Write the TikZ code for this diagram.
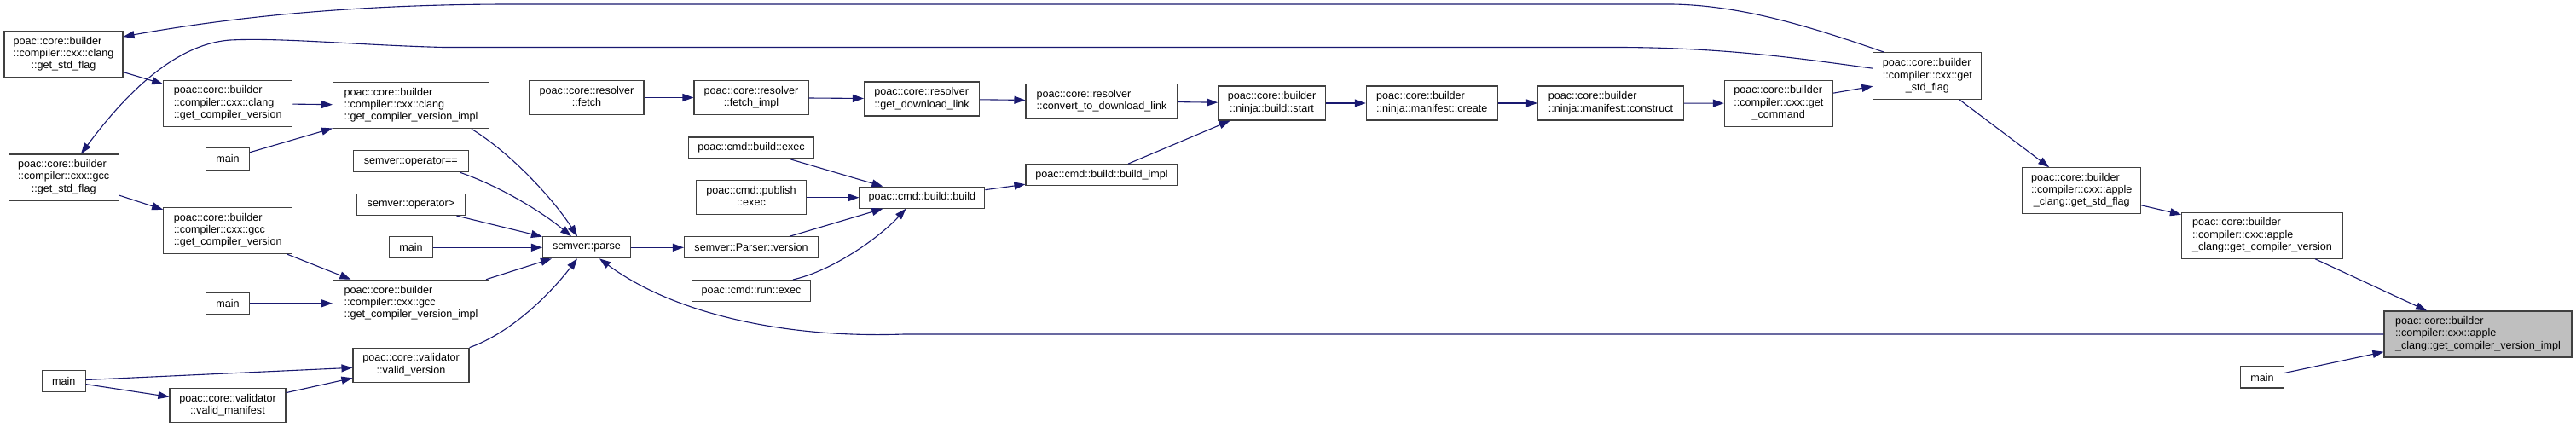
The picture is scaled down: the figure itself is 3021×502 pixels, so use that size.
\documentclass[tikz,border=0pt]{standalone}
\usepackage{fontspec}
\setmainfont{Liberation Sans}
\usetikzlibrary{arrows.meta}
\definecolor{edgeblue}{HTML}{191970}
\definecolor{boxline}{HTML}{404040}
\definecolor{hlfill}{HTML}{BFBFBF}
\newcommand\twoln[2]{\begin{tabular}{@{}l@{}}#1\\\multicolumn{1}{@{}c@{}}{#2}\end{tabular}}
\newcommand\threeln[3]{\begin{tabular}{@{}l@{}}#1\\#2\\\multicolumn{1}{@{}c@{}}{#3}\end{tabular}}
\begin{document}
\begin{tikzpicture}[x=1pt,y=-1pt,
  box/.style={draw=boxline, line width=1.1pt, fill=white, inner sep=0pt, text=black,
    font=\fontsize{12.6}{14.3}\selectfont},
  hl/.style={box, fill=hlfill},
  sz/.style 2 args={minimum width=#1pt, minimum height=#2pt},
  link/.style={draw=edgeblue, line width=1.1pt, -{Triangle[length=13pt,width=9pt]}}]
\fill[white] (0,0) rectangle (3021,502);
\useasboundingbox (0,0) rectangle (3021,502);
% column 1
\node[box, sz={139}{54}] (cstd) at (74.5,63.7) {\threeln{poac::core::builder}{::compiler::cxx::clang}{::get\_std\_flag}};
\node[box, sz={129}{54}] (gstd) at (74.7,208) {\threeln{poac::core::builder}{::compiler::cxx::gcc}{::get\_std\_flag}};
\node[box, sz={51}{25}] (mainL) at (74.7,446.7) {main};
% column 2
\node[box, sz={151}{54}] (cver) at (267.2,121.2) {\threeln{poac::core::builder}{::compiler::cxx::clang}{::get\_compiler\_version}};
\node[box, sz={51}{26}] (main1) at (267,186.3) {main};
\node[box, sz={151}{54}] (gver) at (267.2,270.5) {\threeln{poac::core::builder}{::compiler::cxx::gcc}{::get\_compiler\_version}};
\node[box, sz={51}{25}] (main2) at (267,355.8) {main};
\node[box, sz={136}{40}] (vman) at (267,475.8) {\twoln{poac::core::validator}{::valid\_manifest}};
% column 3
\node[box, sz={183}{54}] (cimpl) at (482,123.8) {\threeln{poac::core::builder}{::compiler::cxx::clang}{::get\_compiler\_version\_impl}};
\node[box, sz={135}{25}] (opeq) at (481.8,189.3) {semver::operator==};
\node[box, sz={127}{25}] (opgt) at (482,240) {semver::operator>};
\node[box, sz={51}{25}] (main3) at (482,290.3) {main};
\node[box, sz={183}{55}] (gimpl) at (482,355.8) {\threeln{poac::core::builder}{::compiler::cxx::gcc}{::get\_compiler\_version\_impl}};
\node[box, sz={136}{40}] (vver) at (482,428.2) {\twoln{poac::core::validator}{::valid\_version}};
% column 4
\node[box, sz={103}{25}] (parse) at (688,290.3) {semver::parse};
\node[box, sz={134}{40}] (fetch) at (688,114.5) {\twoln{poac::core::resolver}{::fetch}};
% column 5
\node[box, sz={134}{40}] (fimpl) at (881,114.5) {\twoln{poac::core::resolver}{::fetch\_impl}};
\node[box, sz={147}{25}] (bexec) at (881,173.5) {poac::cmd::build::exec};
\node[box, sz={129}{40}] (pexec) at (881,231.7) {\twoln{poac::cmd::publish}{::exec}};
\node[box, sz={157}{25}] (pver) at (881,290.3) {semver::Parser::version};
\node[box, sz={139}{25}] (rexec) at (881,341) {poac::cmd::run::exec};
% column 6
\node[box, sz={135}{40}] (gdl) at (1081,116) {\twoln{poac::core::resolver}{::get\_download\_link}};
\node[box, sz={147}{25}] (bbuild) at (1081.4,231.7) {poac::cmd::build::build};
% column 7
\node[box, sz={178}{40}] (convert) at (1292,118.5) {\twoln{poac::core::resolver}{::convert\_to\_download\_link}};
\node[box, sz={178}{25}] (bimpl) at (1292,205.2) {poac::cmd::build::build\_impl};
% further columns
\node[box, sz={126}{40}] (nstart) at (1491.6,121) {\twoln{poac::core::builder}{::ninja::build::start}};
\node[box, sz={154}{40}] (mcreate) at (1679.3,121) {\twoln{poac::core::builder}{::ninja::manifest::create}};
\node[box, sz={171}{40}] (mconstruct) at (1889,121) {\twoln{poac::core::builder}{::ninja::manifest::construct}};
\node[box, sz={127}{54}] (gcmd) at (2085.8,121.2) {\threeln{poac::core::builder}{::compiler::cxx::get}{\_command}};
\node[box, sz={127}{55}] (cxxstd) at (2260.4,89.2) {\threeln{poac::core::builder}{::compiler::cxx::get}{\_std\_flag}};
\node[box, sz={139}{54}] (astd) at (2441.2,223.8) {\threeln{poac::core::builder}{::compiler::cxx::apple}{\_clang::get\_std\_flag}};
\node[box, sz={189}{54}] (agcv) at (2653,276.2) {\threeln{poac::core::builder}{::compiler::cxx::apple}{\_clang::get\_compiler\_version}};
\node[hl, sz={220}{54}] (aimpl) at (2906,392) {\threeln{poac::core::builder}{::compiler::cxx::apple}{\_clang::get\_compiler\_version\_impl}};
\node[box, sz={51}{25}] (mainR) at (2653,442.5) {main};
% connectors
\draw[link] ([xshift=-51pt]cxxstd.north) .. controls (2120,30) and (2040,6) .. (1960,5) -- (600,5) .. controls (450,5) and (300,15) .. ([yshift=20.7pt]cstd.east);
\draw[link] ([yshift=9pt]cxxstd.west) .. controls (2120,70) and (2030,56) .. (1900,55.5) -- (520,55.5) .. controls (420,53) and (330,44) .. (270,47) .. controls (200,52) and (140,120) .. ([xshift=20.3pt]gstd.north);
\draw[link] (cstd) -- (cver);
\draw[link] (cver) -- (cimpl);
\draw[link] (main1) -- (cimpl);
\draw[link] (gstd) -- (gver);
\draw[link] (gver) -- (gimpl);
\draw[link] (main2) -- (gimpl);
\draw[link] (mainL) -- (vver);
\draw[link] (mainL) -- (vman);
\draw[link] (vman) -- (vver);
\draw[link] ([xshift=71pt]cimpl.south) .. controls (600,180) and (650,235) .. ([xshift=-11pt]parse.north);
\draw[link] ([xshift=58pt]opeq.south) .. controls (585,218) and (635,248) .. ([xshift=-18pt]parse.north);
\draw[link] (opgt) -- (parse);
\draw[link] (main3) -- (parse);
\draw[link] ([xshift=88pt]gimpl.north) -- ([xshift=-41pt]parse.south);
\draw[link] (vver.north east) .. controls (600,390) and (645,345) .. ([xshift=-11pt]parse.south);
\draw[link] (aimpl.west) -- (1060,392) .. controls (920,397) and (790,368) .. ([xshift=15pt]parse.south);
\draw[link] (parse) -- (pver);
\draw[link] (fetch) -- (fimpl);
\draw[link] (fimpl) -- (gdl);
\draw[link] (gdl) -- (convert);
\draw[link] (convert) -- (nstart);
\draw[link] ([xshift=45pt]bexec.south) -- ([xshift=-46pt]bbuild.north);
\draw[link] (pexec) -- (bbuild);
\draw[link] ([xshift=45pt]pver.north) -- ([xshift=-46pt]bbuild.south);
\draw[link] ([xshift=49pt]rexec.north) .. controls (975,318) and (1030,280) .. ([xshift=-19pt]bbuild.south);
\draw[link] ([yshift=9pt]bbuild.east) -- ([yshift=-11pt]bimpl.west);
\draw[link] ([xshift=31pt]bimpl.north) -- ([xshift=-49pt]nstart.south);
\draw[link] (nstart) -- (mcreate);
\draw[link] (mcreate) -- (mconstruct);
\draw[link] (mconstruct) -- (gcmd);
\draw[link] ([yshift=12pt]gcmd.east) -- ([yshift=-12pt]cxxstd.west);
\draw[link] ([xshift=38pt]cxxstd.south) -- ([xshift=-38pt]astd.north);
\draw[link] ([yshift=-17pt]astd.east) -- ([yshift=24.5pt]agcv.west);
\draw[link] ([xshift=62pt]agcv.south) -- ([xshift=-60pt]aimpl.north);
\draw[link] ([yshift=5pt]mainR.east) -- ([yshift=-20.7pt]aimpl.west);
\end{tikzpicture}
\end{document}
